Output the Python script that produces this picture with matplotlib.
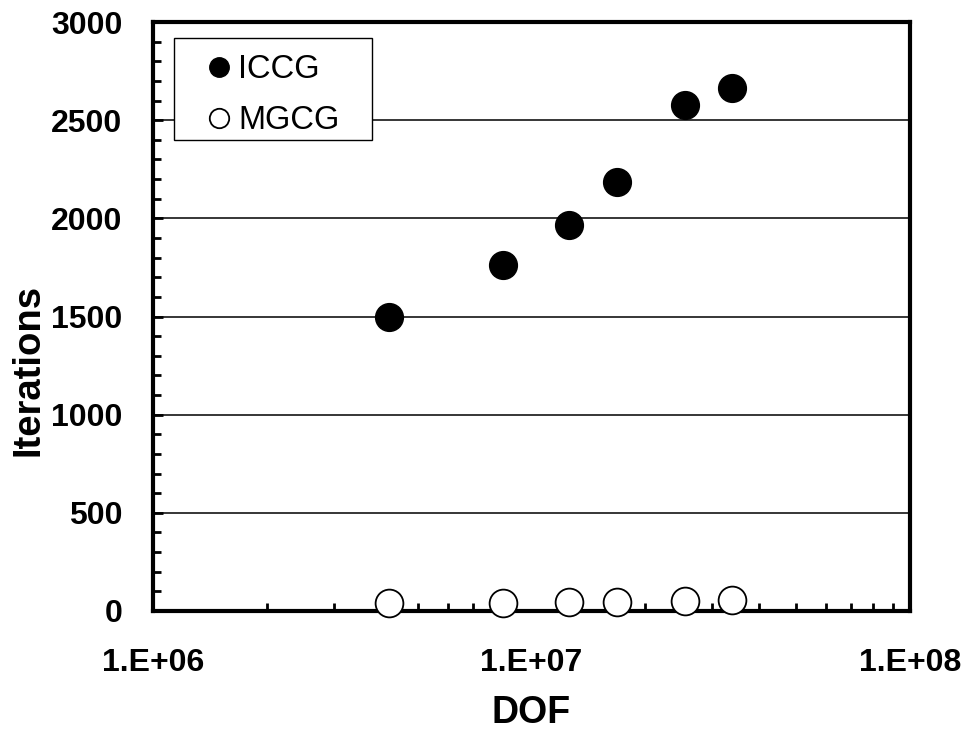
import numpy as np
import matplotlib.pyplot as plt
from matplotlib.patches import Rectangle
from matplotlib.ticker import LogLocator, MultipleLocator, FixedLocator

plt.rcParams['font.family'] = ['Liberation Sans', 'DejaVu Sans']

# DOF and iteration counts
dof = [4.2e6, 8.4e6, 1.26e7, 1.68e7, 2.54e7, 3.38e7]
iccg = [1500, 1760, 1965, 2185, 2575, 2665]
mgcg = [42, 40, 48, 48, 50, 58]

fig = plt.figure(figsize=(9.66, 7.34), dpi=100)
ax = fig.add_axes([0.1584, 0.1676, 0.7836, 0.8024])

ax.plot(dof, iccg, 'o', ms=20, mfc='black', mec='black', mew=1, label='ICCG', zorder=3)
ax.plot(dof, mgcg, 'o', ms=20, mfc='white', mec='black', mew=1.3, label='MGCG', zorder=3, clip_on=False)

ax.set_xscale('log')
ax.set_xlim(1e6, 1e8)
ax.set_ylim(0, 3000)

ax.xaxis.set_major_locator(FixedLocator([1e6, 1e7, 1e8]))
ax.xaxis.set_minor_locator(LogLocator(base=10, subs=np.arange(2, 10)))
ax.set_xticklabels(['1.E+06', '1.E+07', '1.E+08'])
ax.yaxis.set_major_locator(MultipleLocator(500))
ax.yaxis.set_minor_locator(MultipleLocator(100))

ax.grid(axis='y', which='major', color='black', lw=1.1)
ax.set_axisbelow(True)

for s in ax.spines.values():
    s.set_linewidth(3)
ax.tick_params(which='both', direction='in', top=False, right=False, width=2)
ax.tick_params(which='major', length=7)
ax.tick_params(which='minor', length=6)
ax.tick_params(axis='x', which='major', length=0, pad=27)
ax.tick_params(axis='y', which='major', pad=22)
for lab in ax.get_xticklabels() + ax.get_yticklabels():
    lab.set_fontsize(23)
    lab.set_fontweight('bold')

ax.set_xlabel('DOF', fontsize=27, fontweight='bold', va='baseline')
ax.xaxis.set_label_coords(0.5, -0.19)
ax.set_ylabel('Iterations', fontsize=27.5, fontweight='bold', va='center')
ax.yaxis.set_label_coords(-0.165, 0.41)

# legend box (fixed size, like the spreadsheet chart)
ax.add_patch(Rectangle((0.0277, 0.7997), 0.2616, 0.1732, transform=ax.transAxes,
                       fc='white', ec='black', lw=1, zorder=2))
leg = ax.legend(loc='upper left', bbox_to_anchor=(0.0277, 0.961, 0.2616, 0.0),
                mode='expand', fontsize=23.5, markerscale=0.7, frameon=False,
                handlelength=2.2, handletextpad=-0.52,
                borderpad=0.28, labelspacing=0.62, borderaxespad=0)

fig.savefig('out.png', dpi=100)
